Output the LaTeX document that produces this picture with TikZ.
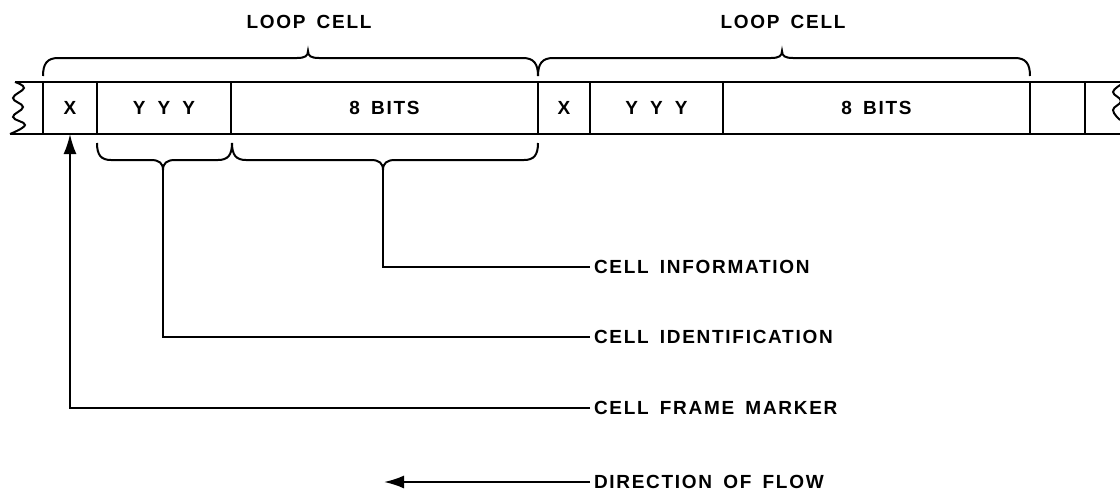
\documentclass[tikz,border=0pt]{standalone}
\usepackage{fontspec}
\setmainfont{Liberation Sans}[LetterSpace=9, WordSpace=1.6]
\usepackage{tikz}
\usetikzlibrary{positioning,arrows.meta}

\begin{document}
\begin{tikzpicture}[
  x=1pt, y=-1pt,
  font=\fontsize{19}{21}\selectfont\bfseries,
  node distance=0pt,
  line width=2pt,
  cell/.style={draw=black, minimum height=52pt, inner sep=0pt, outer sep=0pt, line width=2pt},
  tagtext/.style={anchor=west, inner sep=3pt},
  arrow/.style={-{Latex[length=20pt, width=13pt]}, draw=black, line width=2pt}
]
\useasboundingbox (0,0) rectangle (1120,491);
% the loop: two cells and the start of a third
\node[cell, minimum width=54pt] (xa) at (70,108) {X};
\node[cell, right=of xa, minimum width=134pt] (ya) {Y\hspace{12pt}Y\hspace{12pt}Y};
\node[cell, right=of ya, minimum width=307pt] (ba) {8 BITS};
\node[cell, right=of ba, minimum width=52pt] (xb) {X};
\node[cell, right=of xb, minimum width=133pt] (yb) {Y\hspace{12pt}Y\hspace{12pt}Y};
\node[cell, right=of yb, minimum width=307pt] (bb) {8 BITS};
\node[cell, right=of bb, minimum width=55pt] (eb) {};
\draw (15,82) -- (xa.north west);
\draw (10,134) -- (xa.south west);
\draw (eb.north east) -- (1120,82);
\draw (eb.south east) -- (1120,134);
% broken ends
\draw plot[smooth, tension=0.7] coordinates {(15,82) (24,88) (13,98) (23,107) (13,117) (25,125) (10,134)};
\draw plot[smooth, tension=0.7] coordinates {(1122,84) (1113,92) (1121,101) (1113,110) (1120,120)};

% loop cell braces
\draw (43,76) .. controls (43,64) and (47,58) .. (58,58) -- (297,58)
  .. controls (305,58) and (308,56) .. (308,51) .. controls (308,56) and (311,58) .. (319,58)
  -- (523,58) .. controls (534,58) and (538,64) .. (538,76);
\draw (538,76) .. controls (538,64) and (542,58) .. (553,58) -- (771,58)
  .. controls (779,58) and (782,56) .. (782,51) .. controls (782,56) and (785,58) .. (793,58)
  -- (1015,58) .. controls (1026,58) and (1030,64) .. (1030,76);
\node (loopa) at (309,22) {LOOP CELL};
\node (loopb) at (783,22) {LOOP CELL};

% field braces
\coordinate (idtip) at (163,170);
\coordinate (infotip) at (383,170);
\draw (97,143) .. controls (97,155) and (101,160) .. (111,160) -- (151,160)
  .. controls (159,160) and (163,163) .. (idtip) .. controls (163,163) and (167,160) .. (175,160)
  -- (218,160) .. controls (228,160) and (232,155) .. (232,143);
\draw (232,143) .. controls (232,155) and (236,160) .. (246,160) -- (371,160)
  .. controls (379,160) and (383,163) .. (infotip) .. controls (383,163) and (387,160) .. (395,160)
  -- (524,160) .. controls (534,160) and (538,155) .. (538,143);

\node[tagtext] (info) at (590,267) {CELL INFORMATION};
\node[tagtext] (ident) at (590,337) {CELL IDENTIFICATION};
\node[tagtext] (marker) at (590,408) {CELL FRAME MARKER};
\node[tagtext] (flow) at (590,482) {DIRECTION OF FLOW};
\coordinate (flowend) at (384,482);

\draw (infotip) |- (info.west);
\draw (idtip) |- (ident.west);
\draw[arrow] (marker.west) -| (xa.south);
\draw[arrow] (flow.west) -- (flowend);
\end{tikzpicture}
\end{document}
